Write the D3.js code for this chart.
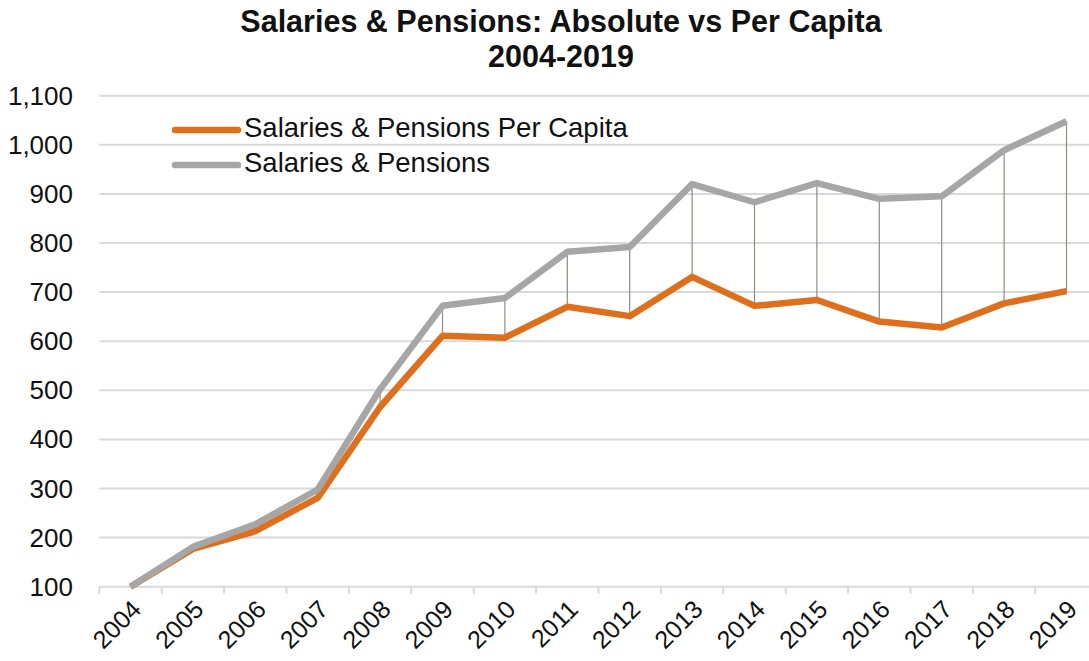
<!DOCTYPE html>
<html>
<head>
<meta charset="utf-8">
<script src="https://cdn.jsdelivr.net/npm/d3@7/dist/d3.min.js"></script>
<style>
  html, body { margin: 0; padding: 0; background: #fff; }
  svg { display: block; font-family: "Liberation Sans", Arial, Helvetica, sans-serif; }
</style>
</head>
<body>
<svg id="chart" width="1089" height="661"></svg>
<script>
// Years on the category axis
const years = ["2004","2005","2006","2007","2008","2009","2010","2011","2012","2013","2014","2015","2016","2017","2018","2019"];
// Salaries & Pensions per capita (index)
const perCapita = [100, 177, 213, 281, 466, 611, 607, 670, 651, 731, 672, 684, 640, 628, 677, 702];
// Salaries & Pensions absolute (index)
const absolute = [100, 181, 227, 298, 502, 672, 688, 782, 792, 920, 883, 922, 890, 895, 989, 1048];
// Value axis ticks
const yTicks = [100, 200, 300, 400, 500, 600, 700, 800, 900, 1000, 1100];
// Title lines
const titleLines = ["Salaries & Pensions: Absolute vs Per Capita", "2004-2019"];

const seriesNames = ["Salaries & Pensions Per Capita", "Salaries & Pensions"];
const colors = { perCapita: "#dd6f1d", absolute: "#a6a6a6" };

const svg = d3.select("#chart");
const W = 1089;

const x = d3.scaleBand().domain(years).range([99.3, 1097.7]).padding(0);
const y = d3.scaleLinear().domain([100, 1100]).range([586.7, 95.7]);
const cx = d => x(d) + x.bandwidth() / 2;

// Title, two lines
svg.append("g").selectAll("text")
  .data(titleLines)
  .join("text")
  .attr("x", 561)
  .attr("y", (d, i) => 32 + i * 35)
  .attr("text-anchor", "middle")
  .attr("font-weight", "bold")
  .attr("font-size", 30.5)
  .attr("fill", "#111")
  .text(d => d);

// Horizontal gridlines
svg.append("g").selectAll("line")
  .data(yTicks.filter(t => t > 100))
  .join("line")
  .attr("x1", x.range()[0]).attr("x2", W)
  .attr("y1", d => y(d)).attr("y2", d => y(d))
  .attr("stroke", "#d9d9d9").attr("stroke-width", 2);

// Value axis labels
const yAxis = d3.axisLeft(y).tickValues(yTicks).tickSize(0).tickPadding(0)
  .tickFormat(d3.format(","));
const gy = svg.append("g").attr("transform", "translate(73,0)").call(yAxis);
gy.select(".domain").remove();
gy.selectAll("text")
  .attr("font-size", 26)
  .attr("fill", "#111")
  .attr("font-family", "Liberation Sans, Arial, sans-serif")
  .attr("dy", "0.33em");

// Category axis: baseline, boundary ticks, rotated labels
const gx = svg.append("g");
gx.append("line")
  .attr("x1", x.range()[0]).attr("x2", W)
  .attr("y1", y(100)).attr("y2", y(100))
  .attr("stroke", "#d9d9d9").attr("stroke-width", 2);
gx.selectAll("line.tick")
  .data(years)
  .join("line").attr("class", "tick")
  .attr("x1", d => x(d)).attr("x2", d => x(d))
  .attr("y1", y(100)).attr("y2", y(100) + 7)
  .attr("stroke", "#d9d9d9").attr("stroke-width", 2);
gx.selectAll("text")
  .data(years)
  .join("text")
  .attr("transform", d => `translate(${cx(d) + 6},${y(100) + 18}) rotate(-45)`)
  .attr("text-anchor", "end")
  .attr("dy", "0.35em")
  .attr("font-size", 25)
  .attr("fill", "#111")
  .text(d => d);

// High-low connectors between the two series
svg.append("g").selectAll("line")
  .data(years)
  .join("line")
  .attr("x1", d => cx(d)).attr("x2", d => cx(d))
  .attr("y1", (d, i) => y(absolute[i]))
  .attr("y2", (d, i) => y(perCapita[i]))
  .attr("stroke", "#8d8f78").attr("stroke-width", 1.2);

const line = d3.line().x(d => cx(d.year)).y(d => y(d.v));

// Per capita series
svg.append("path")
  .datum(years.map((yr, i) => ({ year: yr, v: perCapita[i] })))
  .attr("d", line)
  .attr("fill", "none")
  .attr("stroke", colors.perCapita)
  .attr("stroke-width", 6.5)
  .attr("stroke-linejoin", "round");

// Absolute series
svg.append("path")
  .datum(years.map((yr, i) => ({ year: yr, v: absolute[i] })))
  .attr("d", line)
  .attr("fill", "none")
  .attr("stroke", colors.absolute)
  .attr("stroke-width", 6.5)
  .attr("stroke-linejoin", "round");

// Legend
const legend = svg.append("g");
const legendItems = [
  { name: seriesNames[0], color: colors.perCapita, y: 130 },
  { name: seriesNames[1], color: colors.absolute, y: 165 }
];
legend.selectAll("line")
  .data(legendItems)
  .join("line")
  .attr("x1", 175).attr("x2", 238)
  .attr("y1", d => d.y).attr("y2", d => d.y)
  .attr("stroke", d => d.color).attr("stroke-width", 6.5)
  .attr("stroke-linecap", "round");
legend.selectAll("text")
  .data(legendItems)
  .join("text")
  .attr("x", 244).attr("y", d => d.y - 3)
  .attr("dy", "0.36em")
  .attr("font-size", 27.5)
  .attr("fill", "#111")
  .text(d => d.name);
</script>
</body>
</html>
